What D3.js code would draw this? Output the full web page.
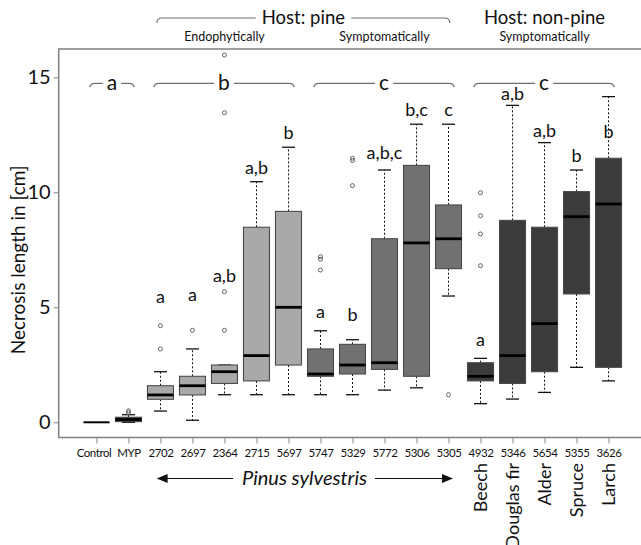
<!DOCTYPE html>
<html><head><meta charset="utf-8">
<script src="https://cdn.jsdelivr.net/npm/d3@7"></script>
<style>body{margin:0;background:#fff}svg{display:block}</style>
</head><body>
<svg id="c" width="641" height="545"></svg>
<script>
// ---- data ----
const categories = ["Control","MYP","2702","2697","2364","2715","5697","5747","5329","5772","5306","5305","4932","5346","5654","5355","3626"];
const groups     = ["control","control","endo","endo","endo","endo","endo","sympt","sympt","sympt","sympt","sympt","nonpine","nonpine","nonpine","nonpine","nonpine"];
const whiskerLow = [0, 0.0, 0.49, 0.09, 1.2, 1.2, 1.2, 1.2, 1.2, 1.4, 1.5, 5.49, 0.81, 1.01, 1.3, 2.39, 1.8];
const q1         = [0, 0.03, 1.0, 1.19, 1.69, 1.8, 2.49, 2.0, 2.1, 2.3, 2.0, 6.68, 1.8, 1.69, 2.2, 5.58, 2.39];
const medians    = [0, 0.12, 1.19, 1.59, 2.2, 2.9, 5.0, 2.1, 2.49, 2.59, 7.8, 7.98, 2.0, 2.9, 4.29, 8.94, 9.49];
const q3         = [0, 0.22, 1.59, 2.0, 2.49, 8.48, 9.17, 3.19, 3.39, 7.98, 11.17, 9.45, 2.59, 8.78, 8.48, 10.03, 11.48];
const whiskerHigh= [0, 0.33, 2.2, 3.19, 2.49, 10.46, 11.96, 3.98, 3.59, 10.97, 12.96, 12.96, 2.78, 13.78, 12.16, 10.97, 14.16];
const outliers   = [[], [0.42, 0.5], [3.19, 4.2], [4.0], [4.0, 5.68, 13.46, 15.97], [], [], [6.62, 7.09, 7.2], [10.29, 11.38, 11.48], [], [], [1.2], [6.81, 8.19, 8.98, 9.98], [], [], [], []];
const letters    = ["", "", "a", "a", "a,b", "a,b", "b", "a", "b", "a,b,c", "b,c", "c", "a", "a,b", "a,b", "b", "b"];
const letterY    = [0, 0, 5.19, 5.28, 6.1, 10.78, 12.33, 4.52, 4.4, 11.43, 13.32, 13.32, 3.33, 14.0, 12.42, 11.33, 12.37];
const groupLetters = ["a", "b", "c", "c"];
const groupStart   = [0, 2, 7, 12];
const groupEnd     = [1, 6, 11, 16];
const hostLabels   = ["Host: pine", "Host: non-pine"];
const subLabels    = ["Endophytically", "Symptomatically", "Symptomatically"];
const hostNames    = ["Beech", "Douglas fir", "Alder", "Spruce", "Larch"];
const yTicks       = [0, 5, 10, 15];
const yLabel       = "Necrosis length in [cm]";
const speciesLabel = "Pinus sylvestris";

// ---- layout ----
const svg = d3.select("#c");
const FONT = "Lato, 'Open Sans', sans-serif";
const x = d3.scaleLinear().domain([-1.18, 17.18]).range([58.7, 646.3]);
const y = d3.scaleLinear().domain([0, 15]).range([422.3, 77.3]);
const frameTop = 49, frameBottom = 437.5;
const bw = 26;
const fills = {control: "#222", endo: "#a9a9a9", sympt: "#717171", nonpine: "#3b3b3b"};

// frame
svg.append("rect").attr("x", x(-1.18)).attr("y", frameTop)
  .attr("width", x(17.18) - x(-1.18)).attr("height", frameBottom - frameTop)
  .attr("fill", "none").attr("stroke", "#858585").attr("stroke-width", 1.6);

// y axis
const yAxis = svg.append("g").attr("transform", `translate(${x(-1.18)},0)`)
  .call(d3.axisLeft(y).tickValues(yTicks).tickSize(5).tickPadding(3));
yAxis.select(".domain").remove();
yAxis.selectAll("line").attr("stroke", "#858585");
yAxis.selectAll("text").attr("font-family", FONT).attr("font-size", 20).attr("fill", "#111");

// x axis
const xAxis = svg.append("g").attr("transform", `translate(0,${frameBottom})`)
  .call(d3.axisBottom(x).tickValues(d3.range(categories.length)).tickFormat(i => categories[i]).tickSize(6).tickPadding(5));
xAxis.select(".domain").remove();
xAxis.selectAll("line").attr("stroke", "#858585");
xAxis.selectAll("text").attr("font-family", FONT).attr("font-size", 11.5).attr("letter-spacing", "-0.45px").attr("fill", "#111");
xAxis.selectAll(".tick").filter(i => i === 0).select("text").attr("dx", "-3");

// y label
svg.append("text").attr("transform", `translate(25,${(y(0)+y(15))/2 + 10}) rotate(-90)`)
  .attr("text-anchor", "middle").attr("font-family", FONT).attr("font-size", 19).attr("fill", "#111")
  .text(yLabel);

// boxes
const idx = d3.range(categories.length);
const g = svg.append("g");
idx.forEach(i => {
  const cx = x(i);
  if (groups[i] === "control" && q3[i] === q1[i]) {
    g.append("line").attr("x1", cx - bw/2).attr("x2", cx + bw/2).attr("y1", y(medians[i])).attr("y2", y(medians[i]))
      .attr("stroke", "#000").attr("stroke-width", 2);
    return;
  }
  g.append("line").attr("x1", cx).attr("x2", cx).attr("y1", y(q3[i])).attr("y2", y(whiskerHigh[i]))
    .attr("stroke", "#111").attr("stroke-dasharray", "2,2");
  g.append("line").attr("x1", cx).attr("x2", cx).attr("y1", y(q1[i])).attr("y2", y(whiskerLow[i]))
    .attr("stroke", "#111").attr("stroke-dasharray", "2,2");
  [whiskerHigh[i], whiskerLow[i]].forEach(v => {
    g.append("line").attr("x1", cx - 6.5).attr("x2", cx + 6.5).attr("y1", y(v)).attr("y2", y(v))
      .attr("stroke", "#111").attr("stroke-width", 1.3);
  });
  g.append("rect").attr("x", cx - bw/2).attr("y", y(q3[i])).attr("width", bw)
    .attr("height", Math.max(1, y(q1[i]) - y(q3[i])))
    .attr("fill", fills[groups[i]]).attr("stroke", "#4a4a4a").attr("stroke-width", 1.1);
  g.append("line").attr("x1", cx - bw/2).attr("x2", cx + bw/2).attr("y1", y(medians[i])).attr("y2", y(medians[i]))
    .attr("stroke", "#000").attr("stroke-width", 2.8);
  outliers[i].forEach(v => {
    g.append("circle").attr("cx", cx).attr("cy", y(v)).attr("r", 2)
      .attr("fill", "none").attr("stroke", "#555").attr("stroke-width", 0.9);
  });
  if (letters[i]) {
    g.append("text").attr("x", cx).attr("y", y(letterY[i])).attr("text-anchor", "middle")
      .attr("font-family", FONT).attr("font-size", 18).attr("fill", "#111").text(letters[i]);
  }
});

// bracket helper
function bracket(x0, x1, yy, label, fs, pad, hook) {
  const t = svg.append("text").attr("x", (x0 + x1)/2).attr("y", yy).attr("dy", "0.33em")
    .attr("text-anchor", "middle").attr("font-family", FONT).attr("font-size", fs).attr("fill", "#111").text(label);
  const bb = t.node().getBBox();
  const l = bb.x - pad, r = bb.x + bb.width + pad;
  const p = d3.path();
  p.moveTo(x0, yy + hook); p.quadraticCurveTo(x0, yy, x0 + 5, yy); p.lineTo(l, yy);
  p.moveTo(r, yy); p.lineTo(x1 - 5, yy); p.quadraticCurveTo(x1, yy, x1, yy + hook);
  svg.append("path").attr("d", p.toString()).attr("fill", "none").attr("stroke", "#6f6f6f").attr("stroke-width", 1.2);
}
groupLetters.forEach((lab, k) => {
  bracket(x(groupStart[k] - 0.2), x(groupEnd[k] + 0.17), y(14.74), lab, 21, 4, 4);
});
bracket(x(1.89), x(11.04), 18, hostLabels[0], 18.5, 6, 5);
svg.append("text").attr("x", x(14)).attr("y", 24).attr("text-anchor", "middle")
  .attr("font-family", FONT).attr("font-size", 18.5).attr("fill", "#111").text(hostLabels[1]);
[4, 9, 14].forEach((c, k) => {
  svg.append("text").attr("x", x(c)).attr("y", 40.5).attr("text-anchor", "middle")
    .attr("font-family", FONT).attr("font-size", 12.5).attr("fill", "#111").text(subLabels[k]);
});

// host names rotated
hostNames.forEach((n, k) => {
  const cx = x(12 + k);
  svg.append("text").attr("transform", `translate(${cx + 6},463) rotate(-90)`)
    .attr("text-anchor", "end").attr("font-family", FONT).attr("font-size", 18).attr("fill", "#111").text(n);
});

// Pinus sylvestris arrow
const ay = 478.5;
svg.append("text").attr("x", x(6.5)).attr("y", ay).attr("dy", "0.33em").attr("text-anchor", "middle")
  .attr("font-family", FONT).attr("font-style", "italic").attr("font-size", 20).attr("fill", "#111").text(speciesLabel);
const arrowL = x(1.88), arrowR = x(11.14);
svg.append("line").attr("x1", arrowL + 8).attr("x2", 233).attr("y1", ay).attr("y2", ay).attr("stroke", "#111").attr("stroke-width", 1.2);
svg.append("line").attr("x1", 375).attr("x2", arrowR - 8).attr("y1", ay).attr("y2", ay).attr("stroke", "#111").attr("stroke-width", 1.2);
svg.append("path").attr("d", `M${arrowL},${ay} L${arrowL+11},${ay-4.5} L${arrowL+11},${ay+4.5} Z`).attr("fill", "#111");
svg.append("path").attr("d", `M${arrowR},${ay} L${arrowR-11},${ay-4.5} L${arrowR-11},${ay+4.5} Z`).attr("fill", "#111");
</script>
</body></html>
